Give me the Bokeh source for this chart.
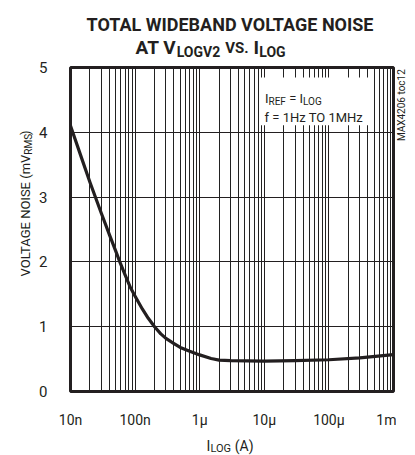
import math
from bokeh.plotting import figure
from bokeh.layouts import column, row
from bokeh.models import FixedTicker, CustomJSTickFormatter, Label, BoxAnnotation
from bokeh.embed import file_html
from bokeh.resources import INLINE

# ---- data ----
i_log = [1e-8, 1.5e-8, 2e-8, 3e-8, 4e-8, 5e-8, 5.8e-8, 7e-8, 8.5e-8, 1e-7, 1.3e-7, 1.6e-7, 2e-7,
         2.5e-7, 3e-7, 4e-7, 5e-7, 7e-7, 1e-6, 1.5e-6, 2e-6, 3e-6, 1e-5, 3e-5, 1e-4, 3e-4, 1e-3]
noise_mv = [4.1, 3.59, 3.23, 2.75, 2.42, 2.17, 2.0, 1.8, 1.6, 1.47, 1.27, 1.13, 1.0,
            0.89, 0.82, 0.74, 0.68, 0.62, 0.565, 0.51, 0.485, 0.475, 0.47, 0.475, 0.49, 0.52, 0.57]
x_ticks = [1e-8, 1e-7, 1e-6, 1e-5, 1e-4, 1e-3]
x_tick_labels = ["10n", "100n", "1µ", "10µ", "100µ", "1m"]
y_ticks = [0, 1, 2, 3, 4, 5]

FONT = "Roboto"
INK = "#231f20"

# canvas geometry (pixels)
W, H = 415, 455
TOP_H, BOT_H = 60, 25
MID_H = H - TOP_H - BOT_H          # 370
YL_W, TAG_W = 36, 19
MAIN_W = W - YL_W - TAG_W          # 360
L, R, T, B = 66, 393, 67, 393      # plot frame in canvas pixels


def blank(width, height, x0, y0, bg="white"):
    f = figure(width=width, height=height, x_range=(x0, x0 + width), y_range=(y0 + height, y0),
               output_backend="svg", toolbar_location=None,
               x_axis_location=None, y_axis_location=None, min_border=0,
               min_border_left=0, min_border_right=0, min_border_top=0, min_border_bottom=0)
    f.outline_line_color = None
    f.grid.visible = False
    f.background_fill_color = bg
    f.border_fill_color = bg
    return f


# ---- main plot ----
p = figure(width=MAIN_W, height=MID_H, x_axis_type="log", x_range=(1e-8, 1e-3), y_range=(0, 5),
           output_backend="svg", toolbar_location=None,
           min_border_left=L - YL_W, min_border_right=YL_W + MAIN_W - R,
           min_border_top=T - TOP_H, min_border_bottom=TOP_H + MID_H - B)
p.outline_line_color = INK
p.outline_line_width = 3
p.background_fill_color = "white"
p.border_fill_color = "white"

minor = [k * 10.0 ** e for e in range(-8, -3) for k in range(2, 10)]
p.xaxis.ticker = FixedTicker(ticks=x_ticks, minor_ticks=minor)
p.xaxis.formatter = CustomJSTickFormatter(args=dict(labels=x_tick_labels),
                                          code="return labels[Math.round(Math.log10(tick)) + 8];")
p.yaxis.ticker = FixedTicker(ticks=y_ticks)
for ax in (p.xaxis, p.yaxis):
    ax.axis_line_color = None
    ax.major_tick_line_color = None
    ax.minor_tick_line_color = None
    ax.major_label_text_font = FONT
    ax.major_label_text_color = INK
p.xaxis.major_label_text_font_size = "14px"
p.yaxis.major_label_text_font_size = "15px"
p.xaxis.major_label_standoff = 14
p.yaxis.major_label_standoff = 17

p.xgrid.grid_line_color = INK
p.xgrid.minor_grid_line_color = "#222222"
p.ygrid.grid_line_color = INK

p.line(i_log, noise_mv, line_color=INK, line_width=3.2, line_join="round")

# ---- text helpers ----
REG = {" ": 248, "(": 342, ")": 348, "=": 551, ".": 263, "A": 652, "B": 622, "C": 651, "D": 656,
       "E": 566, "F": 557, "G": 681, "H": 713, "I": 272, "L": 539, "M": 872, "N": 713, "O": 688,
       "R": 615, "S": 593, "T": 598, "V": 636, "W": 887, "X": 627, "a": 544, "c": 523, "f": 348,
       "m": 876, "n": 552, "o": 570, "s": 516, "t": 327, "v": 484, "z": 495}
BOLD = {" ": 245, ".": 279, "A": 672, "B": 636, "D": 652, "E": 555, "G": 691, "I": 285, "L": 540,
        "N": 709, "O": 685, "S": 611, "T": 603, "V": 656, "W": 891}


def tw(text, size, bold):
    tab = BOLD if bold else REG
    return sum(tab.get(c, 561) for c in text) / 1000.0 * size


def rich_w(pieces, bold=False):
    return sum(gap + tw(t, s, bold) for t, s, _, gap in pieces)


def lab(fig, x, y, text, size, bold=False, angle=0.0, align="center"):
    fig.add_layout(Label(x=x, y=y, text=text, angle=angle,
                         text_font=FONT, text_font_size=f"{size}px",
                         text_font_style="bold" if bold else "normal",
                         text_color=INK, text_align=align, text_baseline="alphabetic"))


def rich(fig, pieces, x0, y0, conv=None, bold=False):
    """Horizontal text pieces (text, size, baseline offset, gap before), each centred on its slot."""
    pos = 0.0
    for text, size, off, gap in pieces:
        pos += gap
        w = tw(text, size, bold)
        x, y = conv(x0 + pos + w / 2, y0 + off) if conv else (x0 + pos + w / 2, y0 + off)
        lab(fig, x, y, text, size, bold)
        pos += w


def main_conv(px, py):
    return 10 ** ((px - L) / (R - L) * 5 - 8), (B - py) / (B - T) * 5


# annotation box inside plot
bl, bt = main_conv(257, 77)
br, bb = main_conv(373, 125)
p.add_layout(BoxAnnotation(left=bl, right=br, top=bt, bottom=bb,
                           fill_color="white", fill_alpha=1.0, line_color=None))
rich(p, [("I", 13, 0, 0), ("REF", 10, 3, 0), ("= I", 13, 0, 3.5), ("LOG", 10, 3, 0)],
     263, 98, conv=main_conv)
rich(p, [("f = 1Hz TO 1MHz", 13, 0, 0)], 263, 117, conv=main_conv)

# ---- title ----
title_fig = blank(W, TOP_H, 0, 0)
t1 = [("TOTAL WIDEBAND VOLTAGE NOISE", 18, 0, 0)]
rich(title_fig, t1, (L + R) / 2 - rich_w(t1, True) / 2, 24, bold=True)
t2 = [("AT V", 19, 0, 0), ("LOGV2", 14, 4, 0), ("VS.", 15, 0, 5), ("I", 19, 0, 5), ("LOG", 14, 4, 0)]
rich(title_fig, t2, 210 - rich_w(t2, True) / 2, 47, bold=True)

# ---- y label (rotated, reads bottom to top); pieces joined at one point ----
ylab_fig = blank(YL_W, MID_H, 0, TOP_H)
YS, YSUB = 13, 10
w_main = tw("VOLTAGE NOISE (mV", YS, False) * 1.08
w_sub = tw("RMS", YSUB, False) * 1.08
w_end = tw(")", YS, False)
join = 213 - (w_main - w_sub - w_end) / 2
lab(ylab_fig, 25, join, "VOLTAGE NOISE (mV", YS, angle=math.pi / 2, align="right")
lab(ylab_fig, 28, join, "RMS", YSUB, angle=math.pi / 2, align="left")
lab(ylab_fig, 25, join - w_sub, ")", YS, angle=math.pi / 2, align="left")

# ---- part tag ----
tag_fig = blank(TAG_W, MID_H, YL_W + MAIN_W, TOP_H)
tag_fig.add_layout(Label(x=401, y=103, text="MAX4206 toc12", angle=math.pi / 2,
                         text_font=FONT, text_font_size="10px", text_color=INK,
                         text_align="center", text_baseline="middle"))

# ---- x label ----
xlab_fig = blank(W, BOT_H, 0, TOP_H + MID_H)
xl = [("I", 14, 0, 0), ("LOG", 11, 3, 0), ("(A)", 14, 0, 3.5)]
rich(xlab_fig, xl, (L + R) / 2 - rich_w(xl) / 2, 445)

layout = column(title_fig, row(ylab_fig, p, tag_fig, spacing=0), xlab_fig, spacing=0)
open("out.html", "w").write(file_html(layout, INLINE))
